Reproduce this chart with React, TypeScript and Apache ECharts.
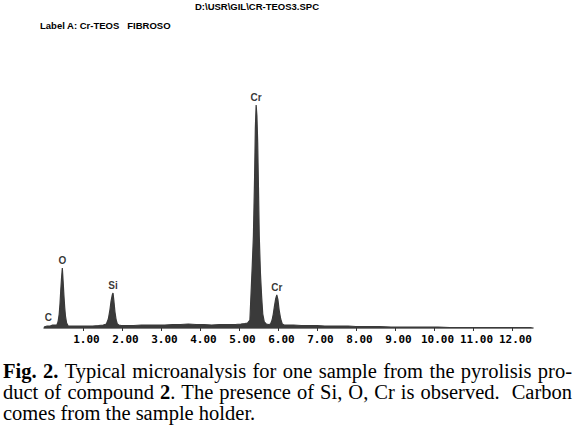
import React, { useEffect, useRef } from "react";
import * as echarts from "echarts";

// Spectrum (energy in keV, counts in arbitrary units)
const energy = [
  0.0, 0.08, 0.16, 0.22, 0.28, 0.33, 0.36, 0.39, 0.41, 0.43, 0.45, 0.47, 0.49, 0.51, 0.53, 0.55, 0.58, 0.62, 0.68,
  0.8, 0.95, 1.1, 1.25, 1.4, 1.52, 1.6, 1.65, 1.69, 1.72, 1.75, 1.77, 1.79, 1.82, 1.85, 1.88, 1.92, 1.98,
  2.1, 2.3, 2.5, 2.7, 2.9, 3.1, 3.3, 3.5, 3.7, 3.9, 4.1, 4.3, 4.5, 4.7, 4.9, 5.05, 5.15, 5.22,
  5.28, 5.31, 5.34, 5.37, 5.4, 5.42, 5.44, 5.46, 5.48, 5.5, 5.52, 5.55, 5.58, 5.61, 5.65, 5.7, 5.76, 5.81,
  5.85, 5.88, 5.91, 5.94, 5.97, 6.0, 6.03, 6.07, 6.11, 6.16, 6.25,
  6.4, 6.6, 6.8, 7.0, 7.2, 7.4, 7.6, 7.8, 8.0, 8.3, 8.6, 8.9, 9.2, 9.5, 9.8, 10.1, 10.4, 10.8, 11.2, 11.6, 12.0, 12.5,
];
const counts = [
  1, 2, 2, 3, 3, 3, 6, 14, 24, 38, 50, 60, 47, 33, 21, 12, 5, 2, 2,
  2, 2, 2, 2, 2.5, 3, 4, 9, 18, 27, 33, 35, 28, 16, 8, 4, 3, 2.5,
  2.5, 2.5, 3, 3, 3, 3, 3.5, 3.5, 4, 3.5, 3.5, 3, 3.5, 3.5, 3.5, 4, 4.5, 5,
  8, 35, 62, 92, 150, 200, 223, 212, 185, 140, 92, 55, 32, 14, 6, 4, 3.5, 4,
  8, 14, 22, 29, 33, 28, 18, 9, 4, 3, 3,
  3, 2.5, 2.5, 2.5, 2, 2, 2, 2, 1.5, 1.5, 1.5, 1, 1, 1, 1, 1, 0.5, 0.5, 0.5, 0.5, 0.5, 0.5,
];

// Peak labels
const peakNames = ["C", "O", "Si", "Cr", "Cr"];
const peakEnergy = [0.11, 0.47, 1.77, 5.44, 5.97];
const peakCounts = [3, 60, 35, 223, 33];

const headerFile = "D:\\USR\\GIL\\CR-TEOS3.SPC";
const headerLabel = "Label A: Cr-TEOS   FIBROSO";

type Seg = { t: string; b?: boolean };
type Word = { segs: Seg[]; gapBefore?: number };

const captionLines: { words: Word[]; justify: boolean }[] = [
  {
    justify: true,
    words: [
      { segs: [{ t: "Fig.", b: true }] },
      { segs: [{ t: "2.", b: true }] },
      ...["Typical", "microanalysis", "for", "one", "sample", "from", "the", "pyrolisis", "pro-"].map((t) => ({ segs: [{ t }] })),
    ],
  },
  {
    justify: true,
    words: [
      ...["duct", "of", "compound"].map((t) => ({ segs: [{ t }] })),
      { segs: [{ t: "2", b: true }, { t: "." }] },
      ...["The", "presence", "of", "Si,", "O,", "Cr", "is", "observed."].map((t) => ({ segs: [{ t }] })),
      { segs: [{ t: "Carbon" }], gapBefore: 2 },
    ],
  },
  {
    justify: false,
    words: ["comes", "from", "the", "sample", "holder."].map((t) => ({ segs: [{ t }] })),
  },
];

const CAP_FONT_SIZE = 20.5;
const CAP_FAMILY = '"Liberation Serif", "Times New Roman", serif';
const CAP_LEFT = 3;
const CAP_RIGHT = 572;
const CAP_Y = [370.5, 391.5, 412.5];

function buildCaption(): any[] {
  const canvas = document.createElement("canvas");
  const ctx = canvas.getContext("2d")!;
  const font = (b?: boolean) => `${b ? "bold " : ""}${CAP_FONT_SIZE}px ${CAP_FAMILY}`;
  const measure = (s: Seg) => {
    ctx.font = font(s.b);
    return ctx.measureText(s.t).width;
  };
  ctx.font = font(false);
  const spaceW = ctx.measureText(" ").width;
  const out: any[] = [];
  captionLines.forEach((line, li) => {
    const widths = line.words.map((w) => w.segs.reduce((a, s) => a + measure(s), 0));
    const total = widths.reduce((a, b) => a + b, 0);
    const weights = line.words.map((w, i) => (i === 0 ? 0 : w.gapBefore ?? 1));
    const sumW = weights.reduce((a, b) => a + b, 0);
    const gap = line.justify ? (CAP_RIGHT - CAP_LEFT - total) / sumW : spaceW;
    let x = CAP_LEFT;
    line.words.forEach((w, i) => {
      x += weights[i] * gap;
      w.segs.forEach((s) => {
        out.push({
          type: "text",
          x,
          y: CAP_Y[li],
          style: {
            text: s.t,
            font: font(s.b),
            fill: "#000",
            align: "left",
            verticalAlign: "middle",
          },
        });
        x += measure(s);
      });
    });
  });
  return out;
}

export default function App() {
  const ref = useRef<HTMLDivElement>(null);
  useEffect(() => {
    if (!ref.current) return;
    const chart = echarts.init(ref.current, undefined, { renderer: "svg" });
    const spectrum = energy.map((e, i) => [e, counts[i]]);
    const peaks = peakNames.map((n, i) => ({ name: n, value: [peakEnergy[i], peakCounts[i]] }));
    chart.setOption({
      animation: false,
      backgroundColor: "#ffffff",
      grid: { left: 44, right: 47, top: 78, bottom: 101 },
      xAxis: {
        type: "value",
        min: 0,
        max: 12.54,
        interval: 1,
        axisLine: { show: true, lineStyle: { color: "#555", width: 1.5 } },
        axisTick: { show: true, length: 3, lineStyle: { color: "#333", width: 1 } },
        splitLine: { show: false },
        axisLabel: {
          showMinLabel: false,
          showMaxLabel: false,
          margin: 6,
          padding: [0, 0, 0, 7],
          color: "#000",
          fontFamily: '"DejaVu Sans Mono", monospace',
          fontWeight: "bold",
          fontSize: 11,
          formatter: (v: number) => v.toFixed(2),
        },
      },
      yAxis: {
        type: "value",
        min: 0,
        max: 250,
        show: false,
      },
      series: [
        {
          type: "line",
          data: spectrum,
          symbol: "none",
          lineStyle: { color: "#3a3a3a", width: 1.2 },
          areaStyle: { color: "#3a3a3a", opacity: 1 },
          z: 2,
        },
        {
          type: "scatter",
          data: peaks,
          symbolSize: 0,
          z: 3,
          label: {
            show: true,
            position: "top",
            distance: 3,
            formatter: (p: any) => p.name,
            color: "#000",
            fontFamily: '"Liberation Sans", Arial, sans-serif',
            fontWeight: "bold",
            fontSize: 10,
          },
        },
      ],
      graphic: [
        {
          type: "text",
          x: 257,
          y: 6,
          style: {
            text: headerFile,
            font: 'bold 9.5px "Liberation Sans", Arial, sans-serif',
            fill: "#000",
            align: "center",
            verticalAlign: "middle",
          },
        },
        {
          type: "text",
          x: 40,
          y: 25,
          style: {
            text: headerLabel,
            font: 'bold 9.5px "Liberation Sans", Arial, sans-serif',
            fill: "#000",
            align: "left",
            verticalAlign: "middle",
          },
        },
        ...buildCaption(),
      ],
    });
    return () => chart.dispose();
  }, []);
  return <div ref={ref} style={{ width: 580, height: 429, position: "absolute", left: 0, top: 0 }} />;
}
